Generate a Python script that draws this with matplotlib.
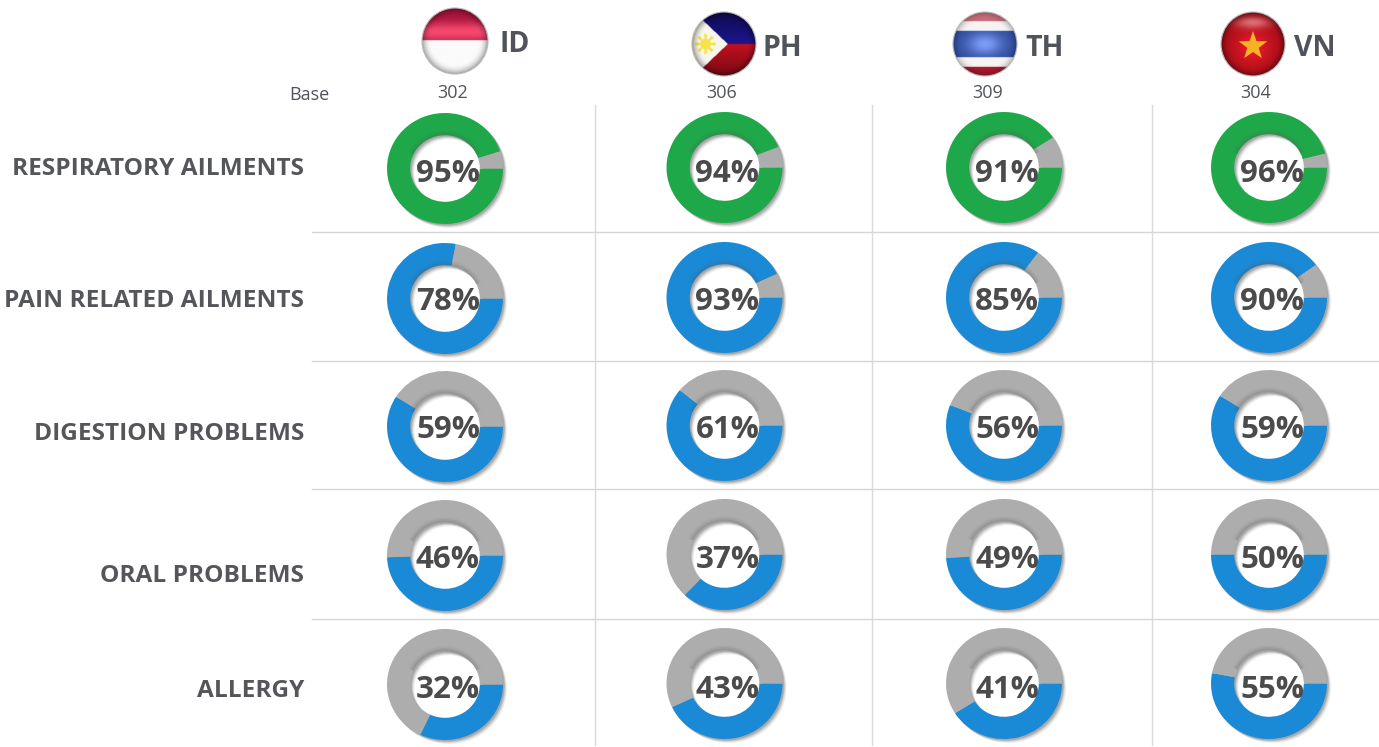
import numpy as np
import matplotlib
matplotlib.use("Agg")
import matplotlib.pyplot as plt
from matplotlib.patches import Circle, Polygon, Wedge
from matplotlib.transforms import Affine2D
from matplotlib.colors import to_rgb

plt.rcParams['font.family'] = ['Open Sans', 'DejaVu Sans']

countries = ["ID", "PH", "TH", "VN"]
bases = [302, 306, 309, 304]
ailments = ["RESPIRATORY AILMENTS", "PAIN RELATED AILMENTS", "DIGESTION PROBLEMS",
            "ORAL PROBLEMS", "ALLERGY"]
respiratory = [95, 94, 91, 96]
pain = [78, 93, 85, 90]
digestion = [59, 61, 56, 59]
oral = [46, 37, 49, 50]
allergy = [32, 43, 41, 55]
rows = [respiratory, pain, digestion, oral, allergy]

# the rings in the picture do not always follow their label
oral_ring = [49.5, 37, 49, 50]
allergy_ring = [32, 43, 41, 53]
ring_rows = [respiratory, pain, digestion, oral_ring, allergy_ring]

GREEN = "#1fa84a"
BLUE = "#1a8ad6"
GRAY = "#adadad"
TXT = "#50545a"

col_x = [445, 724.5, 1004, 1269]
row_y = [167.5, 297.5, 425.5, 554.5, 683.5]
label_y = [169, 301, 434, 576, 691]
text_dy = [6, 4, 4, 5, 6]
RX, RY = 58, 55.5
HOLE = 0.6

fig = plt.figure(figsize=(13.79, 7.47), dpi=100)
ax = fig.add_axes([0, 0, 1, 1])


def ring_tf(cx, cy):
    return Affine2D().scale(RX, RY).translate(cx, cy) + ax.transData


def show_flag(cx, cy, r, rgb, rim=0.55):
    # rgb is n x n x 3, gets a dark glassy rim and goes in a circle
    n = rgb.shape[0]
    yy, xx = np.mgrid[-1:1:n*1j, -1:1:n*1j]
    d = np.sqrt(xx**2 + yy**2)
    dark = 1 - rim * np.clip((d - 0.72) / 0.28, 0, 1)**2
    img = np.clip(rgb * dark[..., None], 0, 1)
    im = ax.imshow(img, extent=[cx-r, cx+r, cy+r, cy-r], zorder=6, interpolation="bilinear")
    im.set_clip_path(Circle((cx, cy), r, transform=ax.transData))
    ax.add_patch(Circle((cx, cy), r, fill=False, ec="#b8b8b8", lw=0.8, zorder=7))


def grid(n=160):
    return np.mgrid[-1:1:n*1j, -1:1:n*1j]


def flag_id():
    yy, xx = grid()
    img = np.ones(yy.shape + (3,)) * np.array(to_rgb("#fbfbfb"))
    top = yy < -0.02
    glow = np.exp(-((yy + 0.28) / 0.3)**2)[..., None]
    red = np.array(to_rgb("#a5123a")) * (1 - glow) + np.array(to_rgb("#f5486e")) * glow
    img[top] = red[top]
    return img


def flag_ph():
    yy, xx = grid()
    img = np.zeros(yy.shape + (3,))
    blue = np.array(to_rgb("#1c1590"))
    red = np.array(to_rgb("#b80f1e"))
    shade_top = (0.55 + 0.45 * np.clip(yy + 1, 0, 1))[..., None]
    shade_bot = (1.05 - 0.4 * np.clip(yy, 0, 1))[..., None]
    img[yy < 0] = (blue * shade_top)[yy < 0]
    img[yy >= 0] = (red * shade_bot)[yy >= 0]
    tri = xx + np.abs(yy) * 1.05 < 0.12
    img[tri] = to_rgb("#f7f7ee")
    sun = (xx + 0.58)**2 + yy**2 < 0.32**2
    ang = np.arctan2(yy, xx + 0.58)
    rays = ((xx + 0.58)**2 + yy**2 < 0.17**2) | (sun & (np.cos(8 * ang) > 0.2))
    img[rays] = to_rgb("#f6e348")
    return img


def flag_th():
    yy, xx = grid()
    img = np.ones(yy.shape + (3,)) * np.array(to_rgb("#f7f3f3"))
    img[yy < -0.72] = to_rgb("#c9707e")
    img[yy > 0.72] = to_rgb("#a8182c")
    mid = np.abs(yy) < 0.42
    glow = np.exp(-(xx / 0.55)**2 - (yy / 0.35)**2)[..., None]
    blue = np.array(to_rgb("#2f4c9e")) * (1 - glow) + np.array(to_rgb("#7d9cf5")) * glow
    img[mid] = blue[mid]
    return img


def flag_vn():
    yy, xx = grid()
    glow = np.exp(-(xx**2 + (yy - 0.1)**2) / 0.35)[..., None]
    img = np.array(to_rgb("#a80d18")) * (1 - glow) + np.array(to_rgb("#e81c28")) * glow
    gloss = np.exp(-(xx**2 / 0.3 + (yy + 0.68)**2 / 0.035))[..., None]
    img = img * (1 - 0.6 * gloss) + np.array(to_rgb("#f5b0b0")) * 0.6 * gloss
    return img


show_flag(455, 41, 33, flag_id(), rim=0.35)
show_flag(724, 44, 32, flag_ph(), rim=0.4)
show_flag(985, 44, 32, flag_th(), rim=0.25)
show_flag(1253, 44, 32, flag_vn(), rim=0.4)

# yellow star on the VN flag, y axis is flipped
ang = -np.pi / 2 + np.arange(10) * np.pi / 5
rad = np.where(np.arange(10) % 2 == 0, 15, 6)
star = np.c_[1253 + rad * np.cos(ang), 46 + rad * np.sin(ang)]
ax.add_patch(Polygon(star, fc="#f7b324", lw=0, zorder=8))

code_x = [515, 782, 1045, 1315]
code_y = [45, 49, 49, 49]
base_x = [453, 722, 988, 1256]
for c, x, y in zip(countries, code_x, code_y):
    ax.text(x, y, c, fontsize=20.5, fontweight="bold", color=TXT, ha="center", va="center")
ax.text(309, 95, "Base", fontsize=13, color=TXT, ha="center", va="center")
for b, x in zip(bases, base_x):
    ax.text(x, 93, str(b), fontsize=13, color=TXT, ha="center", va="center")

# grid lines
for y in [232, 361, 489, 619]:
    ax.plot([312, 1379], [y, y], color="#d6d6d6", lw=1, zorder=1)
for x in [595, 872, 1152]:
    ax.plot([x, x], [105, 745], color="#dadada", lw=1, zorder=1)

for i, name in enumerate(ailments):
    ax.text(304, label_y[i], name, fontsize=17.6, fontweight="bold", color="#55565a",
            ha="right", va="center")
    color = GREEN if i == 0 else BLUE
    for j in range(len(countries)):
        v = rows[i][j]
        drawn = ring_rows[i][j]
        cx, cy = col_x[j], row_y[i] + (1 if j == 0 else 0)
        # soft drop shadow
        for k, a in zip([6, 5, 4, 3, 2], [0.05, 0.08, 0.11, 0.15, 0.2]):
            s = Wedge((0, 0), 1, 0, 360, width=1-HOLE, fc="#4a4a4a", alpha=a, lw=0, zorder=2)
            ax.add_patch(s)
            s.set_transform(ring_tf(cx + k*.7, cy + k*.7))
        # y axis is flipped so angles grow clockwise on screen
        wedges, _ = ax.pie([drawn, 100-drawn], colors=[color, GRAY], startangle=0,
                           counterclock=True, center=(0, 0), radius=1, frame=False,
                           wedgeprops=dict(width=1-HOLE, lw=0, zorder=3))
        for w in wedges:
            w.set_transform(ring_tf(cx, cy))
        # inner shade on the ring, soft and only over the top
        for wd, a in zip([0.03, 0.06, 0.09], [0.14, 0.1, 0.06]):
            s = Wedge((0, 0), HOLE + wd, 205, 335, width=wd, fc="#5a5a5a", alpha=a,
                      lw=0, zorder=4)
            ax.add_patch(s)
            s.set_transform(ring_tf(cx, cy))
        ax.text(cx + 3, cy + text_dy[i], f"{v}%", fontsize=22.5, fontweight="bold",
                color="#4b4b4b", ha="center", va="center", zorder=8)

ax.set_xlim(0, 1379)
ax.set_ylim(747, 0)
ax.set_aspect("auto")
ax.axis("off")

fig.savefig("out.png", dpi=100)
